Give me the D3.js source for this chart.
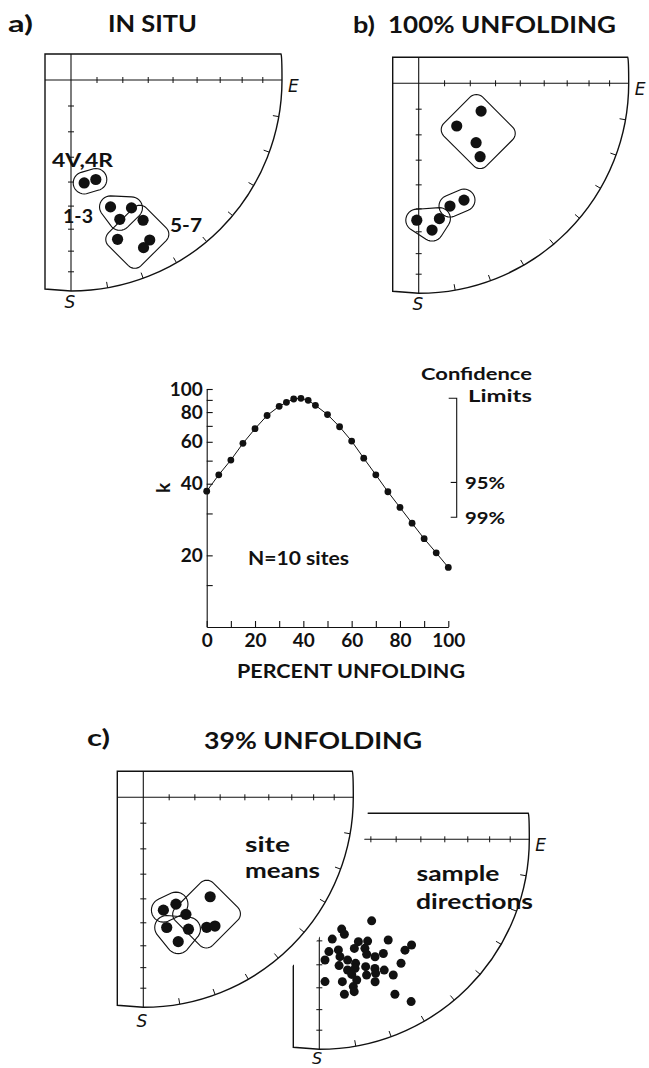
<!DOCTYPE html>
<html>
<head>
<meta charset="utf-8">
<script src="https://cdnjs.cloudflare.com/ajax/libs/d3/7.8.5/d3.min.js"></script>
<style>
  body { margin: 0; background: #fff; }
  svg { display: block; }
  text { font-family: Lato, "Open Sans", sans-serif; font-weight: bold; fill: #111; }
  .dir { font-family: "DejaVu Sans", sans-serif; font-style: italic; font-weight: normal; }
</style>
</head>
<body>
<svg id="fig" width="649" height="1068"></svg>
<script>
// site mean directions, in situ (declination, inclination in degrees)
var inSituDec   = [172.7, 166.0, 162.7, 154.7, 160.7, 152.8, 163.7, 153.8, 156.6];
var inSituInc   = [49.3, 49.8, 37.1, 33.4, 30.7, 26.2, 22.4, 16.6, 14.5];
var inSituGroup = [0, 0, 1, 1, 1, 2, 2, 2, 2];
var inSituNames = ["4V,4R", "1-3", "5-7"];

// site means after 100% unfolding
var fullDec   = [114.0, 138.3, 136.0, 140.1, 165.7, 158.8, 180.8, 171.3, 174.8];
var fullInc   = [63.4, 67.8, 57.7, 52.4, 39.5, 40.1, 35.1, 35.1, 30.5];
var fullGroup = [0, 0, 0, 0, 1, 1, 2, 2, 2];

// site means after 39% unfolding
var partDec   = [169.9, 163.0, 160.0, 169.8, 161.1, 166.4, 146.1, 154.0, 150.9];
var partInc   = [44.6, 45.8, 40.4, 37.1, 34.0, 30.0, 42.4, 31.7, 30.5];
var partGroup = [0, 0, 2, 1, 1, 1, 2, 2, 2];

// sample directions after 39% unfolding
var sampleDec = [147.3, 166.0, 165.2, 172.6, 159.1, 154.6, 145.6, 138.9, 142.3, 175.1,
                 170.2, 162.2, 157.3, 177.3, 170.0, 166.8, 163.7, 157.6, 154.6, 150.7,
                 146.6, 171.1, 167.8, 164.5, 160.0, 156.7, 153.6, 166.5, 160.8, 157.2,
                 151.4, 177.7, 170.8, 165.1, 158.6, 167.0, 170.8, 167.1, 154.0, 150.5];
var sampleInc = [51.9, 53.7, 51.4, 50.4, 46.7, 45.4, 41.5, 33.6, 33.7, 45.4,
                 45.6, 44.6, 43.1, 42.0, 42.7, 40.6, 38.4, 40.5, 38.1, 37.7,
                 30.0, 39.0, 36.5, 36.4, 35.7, 33.5, 31.1, 34.2, 32.1, 31.4,
                 27.3, 32.7, 31.9, 31.3, 28.0, 28.8, 26.2, 26.5, 19.0, 12.2];

// net graticule: inclination ticks on the axes, declination ticks on the rim
var incTicks = [80, 70, 60, 50, 40, 30, 20, 10];
var decTicks = [100, 110, 120, 130, 140, 150, 160, 170];

// precision parameter k versus percent unfolding
var pctUnfold = [0, 5, 10, 15, 20, 25, 30, 33, 36, 39, 42, 45, 50, 55, 60, 65, 70, 75, 80, 85, 90, 95, 100];
var kValues   = [37.2, 43.6, 50.3, 59.1, 68.1, 77.4, 84.6, 87.9, 90.8, 91.4, 89.6, 85.4, 78.1,
                 69.4, 60.4, 51.2, 43.6, 37.0, 31.8, 27.3, 23.5, 20.5, 17.8];
var kTicks    = [15, 20, 30, 40, 50, 60, 70, 80, 90, 100];
var kLabels   = [20, 40, 60, 80, 100];
var pctTicks  = [0, 10, 20, 30, 40, 50, 60, 70, 80, 90, 100];
var pctLabels = [0, 20, 40, 60, 80, 100];
var confNames = ["95%", "99%"];
var confK     = [40.5, 28.9];
var kMax      = 91.4;

var svg = d3.select("#fig");

function label(g, x, y, txt, size, len, cls) {
  var t = g.append("text").attr("x", x).attr("y", y)
      .attr("font-size", size).text(txt);
  if (len) t.attr("textLength", len).attr("lengthAdjust", "spacingAndGlyphs");
  if (cls) t.attr("class", cls);
  return t;
}

// equal-area (Schmidt) projection, lower hemisphere, E to the right and S down
function makeNet(cx, cy, R) {
  var rad = d3.scaleLinear().domain([0, 1]).range([0, R]);
  var proj = function(dec, inc) {
    var rho = Math.SQRT2 * Math.sin((90 - inc) / 2 * Math.PI / 180);
    var a = dec * Math.PI / 180;
    return [cx + rad(rho) * Math.sin(a), cy - rad(rho) * Math.cos(a)];
  };
  proj.cx = cx; proj.cy = cy; proj.R = R;
  return proj;
}

function framePath(net) {
  var cx = net.cx, cy = net.cy, R = net.R, m = 26;
  var p = d3.path();
  p.moveTo(cx - m, cy - m);
  p.lineTo(cx + R - 1, cy - m);
  p.quadraticCurveTo(cx + R, cy - m + 2, cx + R, cy);
  p.arc(cx, cy, R, 0, Math.PI / 2);
  p.lineTo(cx - m, cy + R - 2);
  p.closePath();
  return p.toString();
}

function drawNet(g, net, showE) {
  var cx = net.cx, cy = net.cy, R = net.R, m = 26;
  g.append("path").attr("d", framePath(net))
      .attr("fill", "#fff").attr("stroke", "#111").attr("stroke-width", 1.4);
  g.append("line").attr("x1", cx - m).attr("y1", cy).attr("x2", cx + R).attr("y2", cy)
      .attr("stroke", "#111").attr("stroke-width", 1.1);
  g.append("line").attr("x1", cx).attr("y1", cy - m).attr("x2", cx).attr("y2", cy + R)
      .attr("stroke", "#111").attr("stroke-width", 1.1);

  var ticks = g.append("g").attr("stroke", "#111").attr("stroke-width", 1);
  incTicks.forEach(function(inc) {
    var pe = net(90, inc), ps = net(180, inc);
    ticks.append("line").attr("x1", pe[0]).attr("x2", pe[0]).attr("y1", cy - 3).attr("y2", cy + 3);
    ticks.append("line").attr("y1", ps[1]).attr("y2", ps[1]).attr("x1", cx - 3).attr("x2", cx + 3);
  });
  decTicks.forEach(function(dec) {
    var a = dec * Math.PI / 180;
    ticks.append("line")
        .attr("x1", cx + R * Math.sin(a)).attr("y1", cy - R * Math.cos(a))
        .attr("x2", cx + (R - 6) * Math.sin(a)).attr("y2", cy - (R - 6) * Math.cos(a));
  });

  if (showE) label(g, cx + R + 6, cy + 12, "E", 17, null, "dir");
}

// rounded outline: hull of small circles round each point
function roundHull(pts, pad) {
  var ring = [];
  pts.forEach(function(p) {
    for (var i = 0; i < 32; i++) {
      var a = i / 32 * 2 * Math.PI;
      ring.push([p[0] + pad * Math.cos(a), p[1] + pad * Math.sin(a)]);
    }
  });
  return d3.polygonHull(ring);
}

// hand-drawn style outline: rounded triangle / stadium for small groups,
// rounded box turned 45 degrees for the bigger ones
function groupOutline(pts, pad) {
  if (pts.length < 4) return d3.line().curve(d3.curveLinearClosed)(roundHull(pts, pad));
  var c = [d3.mean(pts, function(p) { return p[0]; }), d3.mean(pts, function(p) { return p[1]; })];
  var s = Math.SQRT1_2, cr = 9;
  var us = pts.map(function(p) { return ((p[0] - c[0]) + (p[1] - c[1])) * s; });
  var vs = pts.map(function(p) { return (-(p[0] - c[0]) + (p[1] - c[1])) * s; });
  var u0 = d3.min(us) - pad + cr, u1 = d3.max(us) + pad - cr;
  var v0 = d3.min(vs) - pad + cr, v1 = d3.max(vs) + pad - cr;
  var corners = [[u0, v0], [u1, v0], [u1, v1], [u0, v1]].map(function(q) {
    return [c[0] + (q[0] - q[1]) * s, c[1] + (q[0] + q[1]) * s];
  });
  return d3.line().curve(d3.curveLinearClosed)(roundHull(corners, cr));
}

function drawSites(g, net, decs, incs, groups, pad) {
  var pts = decs.map(function(d, i) { return net(d, incs[i]); });
  d3.groups(pts.map(function(p, i) { return {p: p, g: groups[i]}; }), function(d) { return d.g; })
    .forEach(function(grp) {
      g.append("path")
          .attr("d", groupOutline(grp[1].map(function(d) { return d.p; }), pad))
          .attr("fill", "none").attr("stroke", "#111").attr("stroke-width", 1.1);
    });
  g.selectAll(null).data(pts).enter().append("circle")
      .attr("cx", function(d) { return d[0]; })
      .attr("cy", function(d) { return d[1]; })
      .attr("r", 5.6).attr("fill", "#111");
  return pts;
}

// ---- a) in situ
var netA = makeNet(71, 80, 211);
var gA = svg.append("g");
drawNet(gA, netA, true);
drawSites(gA, netA, inSituDec, inSituInc, inSituGroup, 11);
label(gA, 70, 308, "S", 17, null, "dir").attr("text-anchor", "middle");
label(svg, 8, 32, "a)", 22, 25);
label(svg, 108, 32, "IN SITU", 22, 89);
label(gA, 52, 167, inSituNames[0], 19, 61);
label(gA, 63, 223, inSituNames[1], 19, 30);
label(gA, 170, 232, inSituNames[2], 19, 32);

// ---- b) 100% unfolding
var netB = makeNet(418.7, 83.3, 210);
var gB = svg.append("g");
drawNet(gB, netB, true);
drawSites(gB, netB, fullDec, fullInc, fullGroup, 11);
label(gB, 418, 310, "S", 17, null, "dir").attr("text-anchor", "middle");
label(svg, 353, 33, "b)", 22, 22);
label(svg, 388, 33, "100% UNFOLDING", 22, 228);

// ---- k versus percent unfolding
var xP = d3.scaleLinear().domain([0, 100]).range([206.7, 448.3]);
var yK = d3.scaleLog().domain([10, 100]).range([627, 389]);
var gK = svg.append("g");

gK.append("g").attr("transform", "translate(206.7,0)")
    .call(d3.axisLeft(yK).tickValues(kTicks).tickSize(-6).tickSizeOuter(0).tickPadding(4)
      .tickFormat(function(d) { return kLabels.indexOf(d) >= 0 ? d : ""; }));
gK.append("g").attr("transform", "translate(0,627)")
    .call(d3.axisBottom(xP).tickValues(pctTicks).tickSize(-6).tickSizeOuter(0).tickPadding(7)
      .tickFormat(function(d) { return pctLabels.indexOf(d) >= 0 ? d : ""; }));
gK.selectAll(".tick text").attr("font-size", 19).attr("font-family", "Lato, sans-serif")
    .attr("font-weight", "bold").attr("fill", "#111");
gK.selectAll(".domain, .tick line").attr("stroke", "#111").attr("stroke-width", 1.1);

gK.append("path")
    .attr("d", d3.line().x(function(d) { return xP(d); }).y(function(d, i) { return yK(kValues[i]); })(pctUnfold))
    .attr("fill", "none").attr("stroke", "#111").attr("stroke-width", 1);
gK.selectAll(null).data(pctUnfold).enter().append("circle")
    .attr("cx", function(d) { return xP(d); })
    .attr("cy", function(d, i) { return yK(kValues[i]); })
    .attr("r", 3.4).attr("fill", "#111");

label(gK, 170, 488, "k", 19).attr("transform", "rotate(-90,170,488)").attr("text-anchor", "middle")
    .attr("font-weight", "normal");
label(gK, 237, 678, "PERCENT UNFOLDING", 19, 228);
label(gK, 248, 565, "N=10 sites", 19, 101);

// confidence limits bracket
var bx = 456.7;
var br = gK.append("g").attr("stroke", "#111").attr("stroke-width", 1.1).attr("fill", "none");
br.append("path").attr("d", "M" + (bx - 8) + "," + yK(kMax) + "H" + bx + "V" + yK(confK[1]) + "H" + (bx - 6));
br.append("line").attr("x1", bx - 6).attr("x2", bx).attr("y1", yK(confK[0])).attr("y2", yK(confK[0]));
label(gK, 532, 380, "Confidence", 17, 111).attr("text-anchor", "end");
label(gK, 532, 402, "Limits", 17, 64).attr("text-anchor", "end");
confNames.forEach(function(n, i) {
  label(gK, 465, yK(confK[i]) + 7, n, 17, 40);
});

// ---- c) 39% unfolding: sample directions net (behind), site means net (front)
var netR = makeNet(319.3, 839.3, 210);
var gR = svg.append("g");
drawNet(gR, netR, true);
gR.selectAll(null).data(sampleDec).enter().append("circle")
    .attr("cx", function(d, i) { return netR(d, sampleInc[i])[0]; })
    .attr("cy", function(d, i) { return netR(d, sampleInc[i])[1]; })
    .attr("r", 4.5).attr("fill", "#111");
label(gR, 317, 1064, "S", 16, null, "dir").attr("text-anchor", "middle");
label(gR, 416.5, 881, "sample", 21, 83);
label(gR, 416, 909, "directions", 21, 117);

var netL = makeNet(143.3, 797.3, 210);
var gL = svg.append("g");
gL.append("path").attr("d", framePath(netL))
    .attr("fill", "#fff").attr("stroke", "#fff").attr("stroke-width", 30).attr("stroke-linejoin", "round");
drawNet(gL, netL, false);
drawSites(gL, netL, partDec, partInc, partGroup, 12);
label(gL, 142, 1027, "S", 17, null, "dir").attr("text-anchor", "middle");
label(gL, 245, 852, "site", 21, 45);
label(gL, 245, 878, "means", 21, 75);
label(svg, 87, 746, "c)", 22, 23);
label(svg, 204, 749, "39% UNFOLDING", 22, 218);
</script>
</body>
</html>
